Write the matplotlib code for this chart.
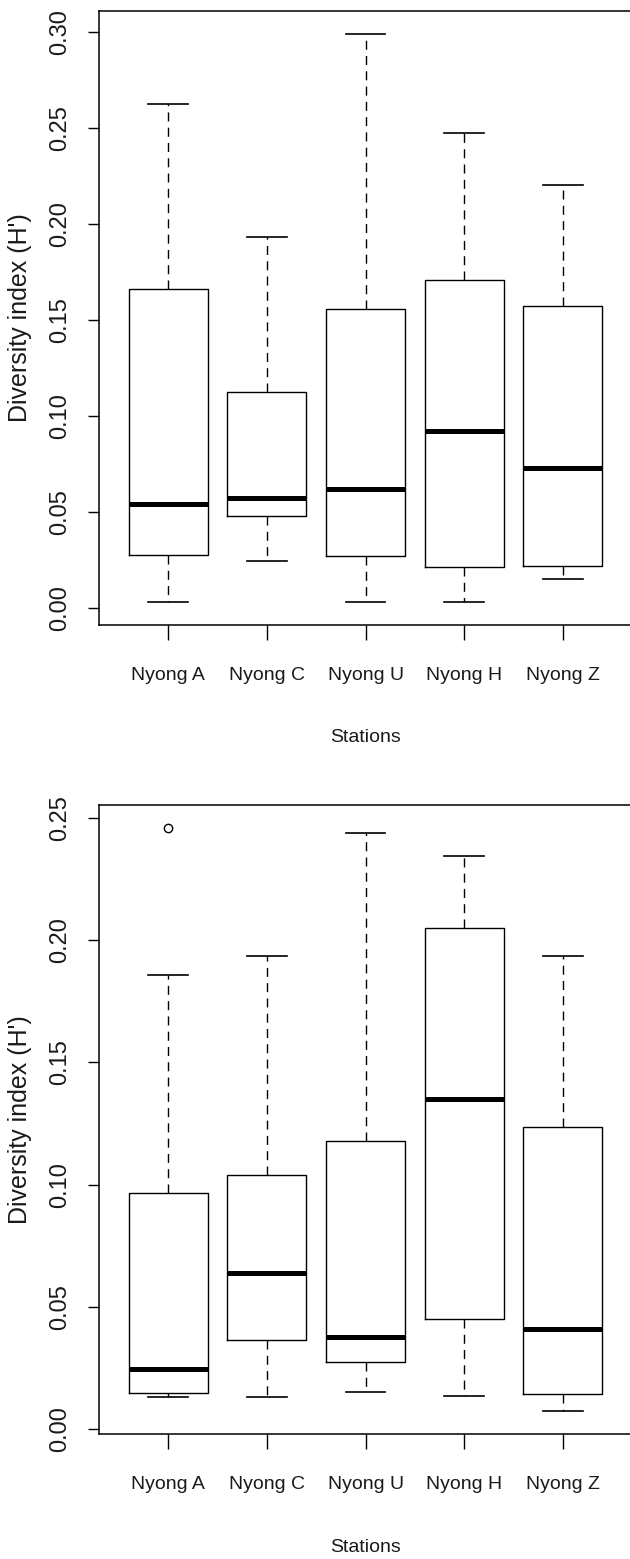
import matplotlib
matplotlib.use("Agg")
import matplotlib.pyplot as plt
from matplotlib import font_manager

stations = ["Nyong A", "Nyong C", "Nyong U", "Nyong H", "Nyong Z"]

# panel 1 (top): five-number summaries
top_low = [0.0032, 0.0245, 0.0032, 0.0032, 0.0153]
top_q1 = [0.0280, 0.0482, 0.0271, 0.0214, 0.0221]
top_med = [0.0543, 0.0577, 0.0619, 0.0923, 0.0731]
top_q3 = [0.1660, 0.1126, 0.1559, 0.1711, 0.1576]
top_high = [0.2626, 0.1932, 0.2990, 0.2474, 0.2202]
top_fliers = [[], [], [], [], []]
top_ticks = [0.00, 0.05, 0.10, 0.15, 0.20, 0.25, 0.30]

# panel 2 (bottom)
bot_low = [0.0130, 0.0130, 0.0149, 0.0136, 0.0074]
bot_q1 = [0.0148, 0.0363, 0.0272, 0.0451, 0.0143]
bot_med = [0.0246, 0.0636, 0.0375, 0.1351, 0.0410]
bot_q3 = [0.0964, 0.1041, 0.1177, 0.2050, 0.1234]
bot_high = [0.1858, 0.1934, 0.2440, 0.2344, 0.1934]
bot_fliers = [[0.2459], [], [], [], []]
bot_ticks = [0.00, 0.05, 0.10, 0.15, 0.20, 0.25]

ylab = "Diversity index (H')"
xlab = "Stations"


def pick_font(names):
    for n in names:
        try:
            font_manager.findfont(n, fallback_to_default=False)
            return n, True
        except ValueError:
            pass
    return "DejaVu Sans", False


narrow, have_narrow = pick_font(["Liberation Sans Narrow"])
regular, _ = pick_font(["Liberation Sans", "Arial"])
xsize = 17 if have_narrow else 14
xfont = narrow if have_narrow else regular

W, H = 630, 1559
fig = plt.figure(figsize=(W / 100, H / 100), dpi=100)
txt = "#1a1a1a"


def make_stats(low, q1, med, q3, high, fliers):
    stats = []
    for i in range(len(low)):
        stats.append(dict(whislo=low[i], q1=q1[i], med=med[i], q3=q3[i],
                          whishi=high[i], fliers=fliers[i], label=stations[i]))
    return stats


def draw_panel(rect, stats, ticks, title_y):
    ax = fig.add_axes(rect)
    ax.bxp(stats, positions=range(1, len(stats) + 1), widths=0.8,
           capwidths=0.4, showfliers=True,
           boxprops=dict(color="black", linewidth=1.0),
           whiskerprops=dict(color="black", linewidth=1.0,
                             linestyle=(0, (6.5, 4.5))),
           capprops=dict(color="black", linewidth=1.2),
           medianprops=dict(color="black", linewidth=3.6, solid_capstyle="butt"),
           flierprops=dict(marker="o", markersize=6, markerfacecolor="none",
                           markeredgecolor="black", markeredgewidth=1.0))
    # R style: 4% padding around the data range
    allv = [s["whislo"] for s in stats] + [s["whishi"] for s in stats]
    for s in stats:
        allv += list(s["fliers"])
    lo, hi = min(allv), max(allv)
    pad = (hi - lo) * 0.04
    ax.set_ylim(lo - pad, hi + pad)
    ax.set_xlim(0.3, len(stats) + 0.7)

    ax.set_yticks(ticks)
    ax.set_yticklabels(["%.2f" % t for t in ticks], rotation=90, va="center",
                       fontsize=17, family=regular, color=txt)
    ax.set_xticks(range(1, len(stats) + 1))
    ax.set_xticklabels(stations, fontsize=xsize, family=xfont, color=txt)
    ax.tick_params(axis="y", direction="out", length=8, width=1.0, pad=12)
    ax.tick_params(axis="x", direction="out", length=11, width=1.0, pad=19)
    for sp in ax.spines.values():
        sp.set_linewidth(1.1)

    b = ax.get_position()
    fig.text(20 / W, b.y0 + b.height / 2, ylab, rotation=90, ha="center",
             va="center", fontsize=18, family=regular, color=txt)
    fig.text(365 / W, 1 - title_y / H, xlab, ha="center", va="center",
             fontsize=xsize, family=xfont, color=txt)
    return ax


left = 99 / W
width = 533 / W
draw_panel([left, 1 - 625 / H, width, 614 / H],
           make_stats(top_low, top_q1, top_med, top_q3, top_high, top_fliers),
           top_ticks, 737)
draw_panel([left, 1 - 1434 / H, width, 629 / H],
           make_stats(bot_low, bot_q1, bot_med, bot_q3, bot_high, bot_fliers),
           bot_ticks, 1548)

fig.savefig("out.png", dpi=100)
